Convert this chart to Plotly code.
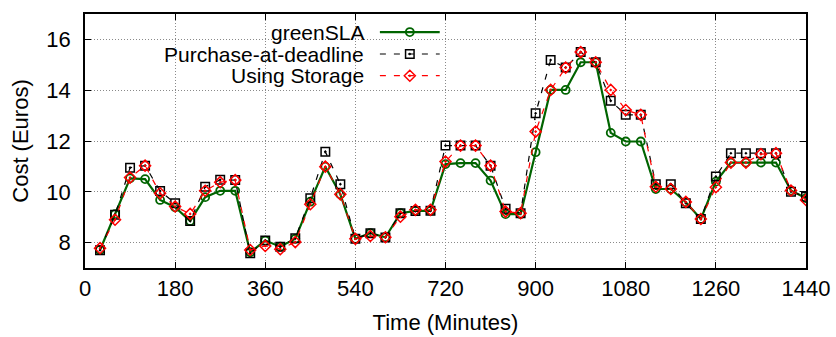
import plotly.graph_objects as go

time_min = [30, 60, 90, 120, 150, 180, 210, 240, 270, 300, 330, 360, 390, 420, 450, 480,
            510, 540, 570, 600, 630, 660, 690, 720, 750, 780, 810, 840, 870, 900, 930, 960,
            990, 1020, 1050, 1080, 1110, 1140, 1170, 1200, 1230, 1260, 1290, 1320, 1350, 1380,
            1410, 1440]

green_sla = [7.71, 9.12, 10.53, 10.50, 9.68, 9.39, 8.85, 9.79, 10.04, 10.04, 7.62, 8.08,
             7.84, 8.15, 9.61, 10.99, 9.90, 8.15, 8.37, 8.21, 9.16, 9.25, 9.25, 11.09,
             11.13, 11.13, 10.44, 9.12, 9.12, 11.56, 14.01, 14.01, 15.10, 15.10, 12.32, 11.98,
             11.98, 10.11, 10.11, 9.59, 8.93, 10.40, 11.15, 11.15, 11.15, 11.15, 10.05, 9.75]

purchase_deadline = [7.70, 9.10, 10.95, 11.03, 10.03, 9.55, 8.85, 10.20, 10.47, 10.46, 7.58, 8.08,
                     7.84, 8.17, 9.75, 11.58, 10.30, 8.15, 8.37, 8.20, 9.16, 9.24, 9.25, 11.82,
                     11.82, 11.82, 11.03, 9.33, 9.16, 13.09, 15.19, 14.89, 15.50, 15.10, 13.58, 13.03,
                     13.03, 10.30, 10.30, 9.55, 8.93, 10.60, 11.52, 11.52, 11.52, 11.52, 10.00, 9.81]

using_storage = [7.78, 8.90, 10.56, 11.03, 9.94, 9.42, 9.13, 10.04, 10.38, 10.46, 7.71, 7.87,
                 7.74, 8.02, 9.51, 10.99, 9.90, 8.15, 8.26, 8.21, 9.02, 9.29, 9.29, 11.19,
                 11.82, 11.82, 11.03, 9.22, 9.16, 12.37, 14.01, 14.89, 15.50, 15.10, 14.01, 13.22,
                 13.03, 10.20, 10.11, 9.60, 8.93, 10.18, 11.15, 11.15, 11.48, 11.52, 10.05, 9.68]

series_names = ["greenSLA", "Purchase-at-deadline", "Using Storage"]
x_ticks = [0, 180, 360, 540, 720, 900, 1080, 1260, 1440]
y_ticks = [8, 10, 12, 14, 16]

GREEN = "#006400"
BLACK = "#000000"
RED = "#ff0000"
FONT = "Liberation Sans"
FS = 22
KEY_FS = 21

styles = [
    dict(color=GREEN, width=2.2, dash="solid", symbol="circle-open", msize=8, mlw=1.8),
    dict(color=BLACK, width=1.2, dash="6px,8px", symbol="square-open-dot", msize=8.5, mlw=1.5),
    dict(color=RED, width=1.2, dash="6px,8px", symbol="diamond-open-dot", msize=8.5, mlw=1.5),
]
data = [green_sla, purchase_deadline, using_storage]

fig = go.Figure()
for name, ys, st in zip(series_names, data, styles):
    fig.add_trace(go.Scatter(
        x=time_min, y=ys, mode="lines+markers", name=name, showlegend=False,
        line=dict(color=st["color"], width=st["width"], dash=st["dash"]),
        marker=dict(symbol=st["symbol"], size=st["msize"], color=st["color"],
                    line=dict(color=st["color"], width=st["mlw"])),
        xaxis="x", yaxis="y",
    ))

# manual gnuplot-style key (text left, sample right)
row_y = [0.929, 0.8425, 0.757]
text_x = 0.3897
for name, st, ry in zip(series_names, styles, row_y):
    fig.add_annotation(x=text_x, y=ry, xref="paper", yref="paper", text=name,
                       showarrow=False, xanchor="right", yanchor="middle",
                       font=dict(family=FONT, size=KEY_FS, color="black"))
    fig.add_trace(go.Scatter(
        x=[0.409, 0.4505, 0.492], y=[ry, ry, ry], mode="lines",
        line=dict(color=st["color"], width=st["width"], dash=st["dash"]),
        showlegend=False, hoverinfo="skip", xaxis="x2", yaxis="y2"))
    fig.add_trace(go.Scatter(
        x=[0.4505], y=[ry], mode="markers",
        marker=dict(symbol=st["symbol"], size=st["msize"], color=st["color"],
                    line=dict(color=st["color"], width=st["mlw"])),
        showlegend=False, hoverinfo="skip", xaxis="x2", yaxis="y2"))

# white key box hiding the grid
fig.add_shape(type="rect", xref="paper", yref="paper", x0=0.0185, x1=0.512, y0=0.715, y1=1.0,
              fillcolor="white", line=dict(width=0), layer="between")

axis_common = dict(
    showline=True, linecolor="black", linewidth=1.5, mirror="ticks",
    ticks="inside", ticklen=6, tickwidth=1, tickcolor="black",
    showgrid=True, gridcolor="#8a8a8a", gridwidth=1, griddash="1px,2px",
    zeroline=False, tickfont=dict(family=FONT, size=FS, color="black"),
)

fig.update_layout(
    width=836, height=337,
    margin=dict(l=85, r=30, t=14, b=69, autoexpand=False),
    paper_bgcolor="white", plot_bgcolor="white",
    xaxis=dict(range=[0, 1440], tickmode="array", tickvals=x_ticks,
               ticktext=[str(v) for v in x_ticks],
               title=dict(text="Time (Minutes)", font=dict(family=FONT, size=FS, color="black"),
                          standoff=14),
               ticklabelstandoff=0,
               **axis_common),
    yaxis=dict(range=[7, 17], tickmode="array", tickvals=y_ticks,
               ticktext=[str(v) for v in y_ticks],
               title=dict(text="Cost (Euros)", font=dict(family=FONT, size=FS, color="black"),
                          standoff=12),
               ticklabelstandoff=8,
               **axis_common),
    xaxis2=dict(range=[0, 1], overlaying="x", visible=False, fixedrange=True),
    yaxis2=dict(range=[0, 1], overlaying="y", visible=False, fixedrange=True),
    font=dict(family=FONT, size=FS, color="black"),
)

fig.write_html("out.html")
